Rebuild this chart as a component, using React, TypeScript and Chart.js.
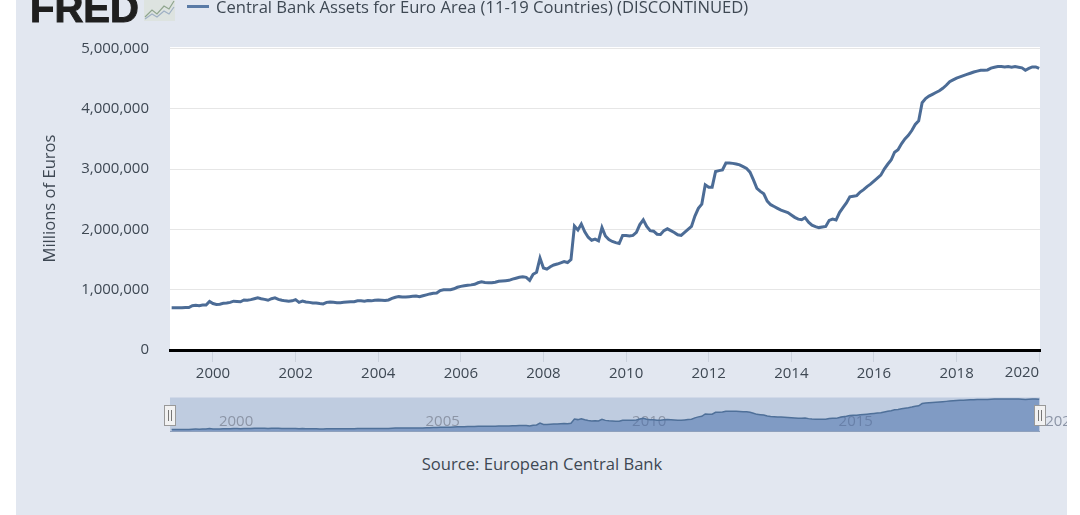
import React, { useEffect, useRef } from "react";
import { Chart, registerables } from "chart.js";

Chart.register(...registerables);

const START_YEAR = 1999;
const yearTicks = [2000, 2002, 2004, 2006, 2008, 2010, 2012, 2014, 2016, 2018, 2020];
const navigatorYears = [2000, 2005, 2010, 2015, 2020];
const yTicks = [0, 1000000, 2000000, 3000000, 4000000, 5000000];
const seriesName = "Central Bank Assets for Euro Area (11-19 Countries) (DISCONTINUED)";
const sourceText = "Source: European Central Bank";
const yTitle = "Millions of Euros";

// Monthly, millions of euros, from January 1999
const assets1999to2003 = [
  700000, 700000, 700000, 700000, 705000, 705000, 735000, 740000, 735000, 745000, 745000, 805000,
  770000, 755000, 760000, 775000, 780000, 790000, 810000, 805000, 800000, 830000, 825000, 835000,
  850000, 865000, 850000, 840000, 825000, 850000, 865000, 840000, 825000, 815000, 810000, 815000,
  835000, 790000, 810000, 795000, 790000, 780000, 780000, 770000, 765000, 790000, 795000, 790000,
  785000, 785000, 790000, 795000, 800000, 800000, 815000, 815000, 810000, 820000, 815000, 825000,
];
const assets2004to2008 = [
  830000, 825000, 820000, 830000, 855000, 875000, 885000, 880000, 880000, 885000, 890000, 895000,
  885000, 900000, 915000, 930000, 940000, 945000, 985000, 1000000, 1000000, 1000000, 1015000, 1040000,
  1055000, 1065000, 1075000, 1080000, 1090000, 1115000, 1130000, 1120000, 1115000, 1115000, 1125000, 1140000,
  1145000, 1150000, 1155000, 1175000, 1190000, 1205000, 1215000, 1205000, 1155000, 1255000, 1290000, 1525000,
  1360000, 1340000, 1380000, 1410000, 1425000, 1445000, 1465000, 1450000, 1500000, 2055000, 1990000, 2090000,
];
const assets2009to2013 = [
  1960000, 1870000, 1820000, 1840000, 1810000, 2030000, 1890000, 1830000, 1800000, 1780000, 1765000, 1900000,
  1900000, 1890000, 1900000, 1950000, 2080000, 2160000, 2050000, 1980000, 1970000, 1920000, 1915000, 1980000,
  2010000, 1980000, 1950000, 1910000, 1900000, 1950000, 2000000, 2050000, 2220000, 2350000, 2420000, 2740000,
  2700000, 2700000, 2960000, 2975000, 2985000, 3100000, 3100000, 3095000, 3085000, 3070000, 3040000, 3010000,
  2950000, 2820000, 2680000, 2630000, 2590000, 2470000, 2410000, 2380000, 2350000, 2320000, 2300000, 2280000,
];
const assets2014to2018 = [
  2240000, 2200000, 2170000, 2160000, 2195000, 2120000, 2070000, 2045000, 2030000, 2040000, 2050000, 2150000,
  2170000, 2155000, 2280000, 2360000, 2440000, 2540000, 2550000, 2560000, 2620000, 2660000, 2710000, 2750000,
  2800000, 2850000, 2900000, 3000000, 3080000, 3150000, 3280000, 3320000, 3420000, 3500000, 3560000, 3640000,
  3740000, 3800000, 4100000, 4170000, 4210000, 4240000, 4270000, 4300000, 4340000, 4390000, 4450000, 4480000,
  4510000, 4530000, 4550000, 4570000, 4590000, 4610000, 4625000, 4640000, 4640000, 4645000, 4675000, 4690000,
];
const assets2019to2020 = [
  4700000, 4700000, 4695000, 4700000, 4690000, 4700000, 4690000, 4680000, 4640000, 4670000, 4695000, 4695000,
  4670000,
];

const assets = [
  ...assets1999to2003,
  ...assets2004to2008,
  ...assets2009to2013,
  ...assets2014to2018,
  ...assets2019to2020,
];
const points = assets.map((v, i) => ({ x: START_YEAR + i / 12, y: v }));

const FONT = '"Open Sans", sans-serif';
const TEXT = "#3e4853";
const LINE = "#4c6c96";

function App() {
  const mainRef = useRef<HTMLCanvasElement>(null);
  const navRef = useRef<HTMLCanvasElement>(null);

  useEffect(() => {
    const plotBg = {
      id: "plotBg",
      beforeDraw(c: any) {
        const { ctx, chartArea: a } = c;
        ctx.save();
        ctx.fillStyle = "#ffffff";
        ctx.fillRect(a.left, a.top, a.right - a.left, a.bottom - a.top);
        ctx.restore();
      },
    };
    const lastLabel = {
      id: "lastLabel",
      afterDraw(c: any) {
        const { ctx } = c;
        const s = c.scales.x;
        const v = yearTicks[yearTicks.length - 1];
        ctx.save();
        ctx.font = `15px ${FONT}`;
        ctx.fillStyle = TEXT;
        ctx.textAlign = "right";
        ctx.textBaseline = "middle";
        ctx.fillText(String(v), s.getPixelForValue(v), 373);
        ctx.restore();
      },
    };
    const main = new Chart(mainRef.current!, {
      type: "line",
      plugins: [plotBg, lastLabel],
      data: {
        datasets: [
          {
            label: seriesName,
            data: points,
            borderColor: LINE,
            borderWidth: 3,
            pointRadius: 0,
            tension: 0,
            fill: false,
          },
        ],
      },
      options: {
        animation: false,
        responsive: false,
        devicePixelRatio: 1,
        parsing: false,
        layout: { padding: { left: 0, right: 27, top: 47, bottom: 0 } },
        plugins: { legend: { display: false }, tooltip: { enabled: false } },
        scales: {
          x: {
            type: "linear",
            min: 1998.96,
            max: 2020.02,
            afterBuildTicks: (s: any) => {
              s.ticks = yearTicks.map((value) => ({ value }));
            },
            afterFit: (s: any) => {
              s.height = 45;
              s.paddingLeft = 0;
              s.paddingRight = 0;
            },
            border: { display: true, color: "#000000", width: 3 },
            grid: {
              display: true,
              drawOnChartArea: false,
              drawTicks: true,
              tickLength: 12,
              color: "#ccd3de",
            },
            ticks: {
              autoSkip: false,
              maxRotation: 0,
              padding: 3,
              color: TEXT,
              font: { family: FONT, size: 15 },
              callback: (v: any) => (v === yearTicks[yearTicks.length - 1] ? "" : String(v)),
            },
          },
          y: {
            min: 0,
            max: 5025000,
            afterBuildTicks: (s: any) => {
              s.ticks = yTicks.map((value) => ({ value }));
            },
            afterFit: (s: any) => {
              s.width = 154;
            },
            border: { display: false },
            grid: { color: "#e6e6e6", lineWidth: 1, drawTicks: false },
            title: {
              display: true,
              text: yTitle,
              color: TEXT,
              font: { family: FONT, size: 16.6, weight: "normal" },
              padding: { top: 24, bottom: 0 },
            },
            ticks: {
              padding: 21,
              color: TEXT,
              font: { family: FONT, size: 15 },
              callback: (v: any) => Number(v).toLocaleString("en-US"),
            },
          },
        },
      },
    } as any);

    const navBack = {
      id: "navBack",
      beforeDatasetsDraw(c: any) {
        const { ctx } = c;
        const s = c.scales.x;
        ctx.save();
        ctx.font = `15px ${FONT}`;
        ctx.fillStyle = "#8c95a6";
        ctx.textAlign = "left";
        ctx.textBaseline = "middle";
        navigatorYears.forEach((y) => ctx.fillText(String(y), s.getPixelForValue(y) + 6, 32));
        ctx.restore();
      },
      beforeDraw(c: any) {
        const { ctx, chartArea: a } = c;
        ctx.save();
        ctx.fillStyle = "#bfcce0";
        ctx.fillRect(a.left, a.top, a.right - a.left, a.bottom - a.top);
        ctx.restore();
      },
      afterDraw(c: any) {
        const { ctx, chartArea: a } = c;
        ctx.save();
        [a.left, a.right].forEach((x: number) => {
          const px = Math.round(x);
          ctx.fillStyle = "#f2f2f2";
          ctx.strokeStyle = "#999999";
          ctx.lineWidth = 1;
          ctx.fillRect(px - 5.5, 15.5, 11, 20);
          ctx.strokeRect(px - 5.5, 15.5, 11, 20);
          ctx.beginPath();
          ctx.moveTo(px - 1.5, 20);
          ctx.lineTo(px - 1.5, 31);
          ctx.moveTo(px + 1.5, 20);
          ctx.lineTo(px + 1.5, 31);
          ctx.strokeStyle = "#777777";
          ctx.stroke();
        });
        ctx.fillStyle = "#8fa1bd";
        ctx.fillRect(a.left, a.bottom - 1, a.right - a.left, 1);
        ctx.restore();
      },
    };
    const nav = new Chart(navRef.current!, {
      type: "line",
      plugins: [navBack],
      data: {
        datasets: [
          {
            data: points,
            borderColor: "#4f7099",
            borderWidth: 1.5,
            backgroundColor: "rgba(70,110,170,0.52)",
            fill: "origin",
            pointRadius: 0,
            tension: 0,
          },
        ],
      },
      options: {
        animation: false,
        responsive: false,
        devicePixelRatio: 1,
        parsing: false,
        layout: { padding: { left: 154, right: 27, top: 7.5, bottom: 8 } },
        plugins: { legend: { display: false }, tooltip: { enabled: false } },
        scales: {
          x: { type: "linear", min: 1998.96, max: 2020.02, display: false },
          y: { min: 360000, max: 4900000, display: false },
        },
      },
    } as any);

    return () => {
      main.destroy();
      nav.destroy();
    };
  }, []);

  return (
    <div style={{ position: "absolute", left: 0, top: 0, width: 1080, height: 515, overflow: "hidden", background: "#ffffff" }}>
      <div style={{ position: "absolute", left: 16, top: 0, width: 1051, height: 515, background: "#e2e7f0" }} />
      <canvas ref={mainRef} width={1051} height={395} style={{ position: "absolute", left: 16, top: 0, width: 1051, height: 395 }} />
      <canvas ref={navRef} width={1051} height={50} style={{ position: "absolute", left: 16, top: 390, width: 1051, height: 50 }} />
      <div
        style={{
          position: "absolute",
          left: 30,
          top: -14,
          font: 'bold 40px "Liberation Sans", sans-serif',
          lineHeight: "44px",
          color: "#1f1f1f",
          WebkitTextStroke: "1px #1f1f1f",
        }}
      >
        FRED
      </div>
      <svg width={31} height={21} style={{ position: "absolute", left: 144, top: 0 }}>
        <rect x={0} y={0} width={31} height={21} fill="#dde3e0" />
        <polyline points="1,17 8,10 13,14 20,6 25,9 30,1" fill="none" stroke="#8fa58d" strokeWidth={1.2} />
        <polyline points="1,19 8,14 13,17 20,11 25,14 30,7" fill="none" stroke="#9fb0c4" strokeWidth={1.2} />
      </svg>
      <div style={{ position: "absolute", left: 187, top: 5, width: 22, height: 3, background: "#5a7ba6" }} />
      <div style={{ position: "absolute", left: 216, top: -3, font: `16.6px ${FONT}`, lineHeight: "20px", color: TEXT, whiteSpace: "nowrap" }}>
        {seriesName}
      </div>
      <div style={{ position: "absolute", left: 342, width: 400, top: 454, textAlign: "center", font: `16.6px ${FONT}`, lineHeight: "20px", color: TEXT }}>
        {sourceText}
      </div>
    </div>
  );
}

export default App;
